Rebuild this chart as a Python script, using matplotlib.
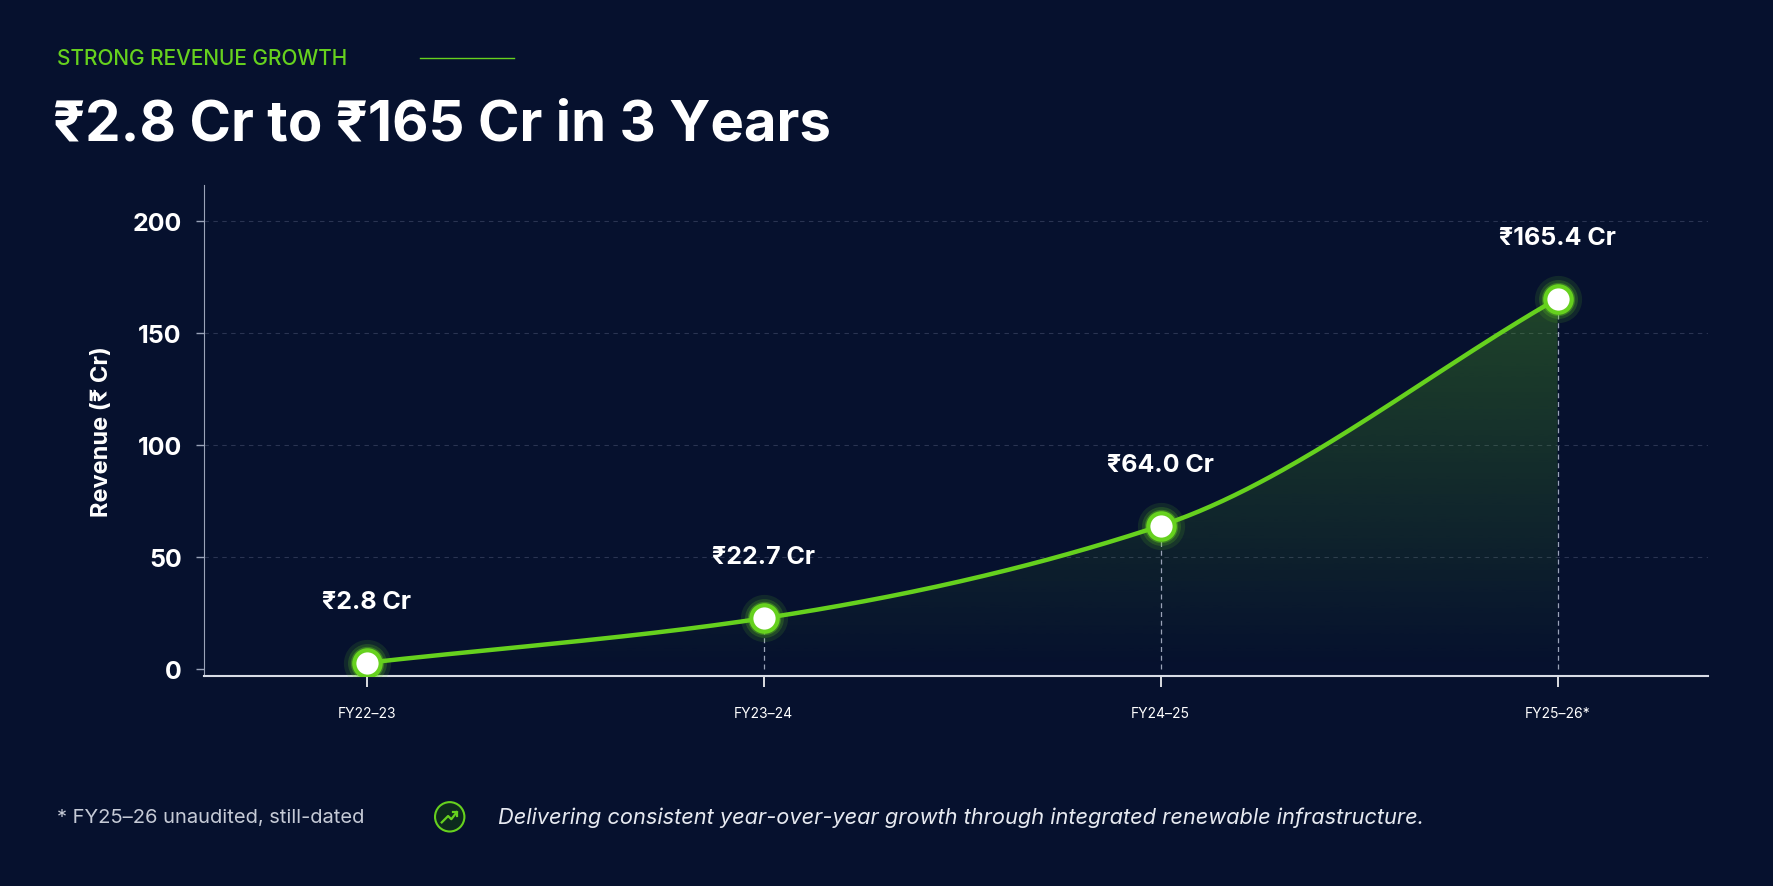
import numpy as np
import matplotlib.pyplot as plt
from matplotlib.patches import Circle

years = ["FY22–23", "FY23–24", "FY24–25", "FY25–26*"]
revenue = [2.8, 22.7, 64.0, 165.4]
labels = ["₹2.8 Cr", "₹22.7 Cr", "₹64.0 Cr", "₹165.4 Cr"]
yticks = [0, 50, 100, 150, 200]

BG = "#06112e"
GREEN = "#66d11e"
FONT = ["Inter", "DejaVu Sans"]
plt.rcParams["font.family"] = FONT


def pchip(x, y, xs):
    x = np.asarray(x, float); y = np.asarray(y, float)
    h = np.diff(x); d = np.diff(y) / h
    m = np.zeros_like(y)
    for k in range(1, len(x) - 1):
        if d[k - 1] * d[k] > 0:
            w1 = 2 * h[k] + h[k - 1]; w2 = h[k] + 2 * h[k - 1]
            m[k] = (w1 + w2) / (w1 / d[k - 1] + w2 / d[k])
    m[0] = d[0]; m[-1] = d[-1]
    out = np.empty_like(xs)
    for i, v in enumerate(xs):
        k = min(np.searchsorted(x, v, side="right") - 1, len(x) - 2)
        t = (v - x[k]) / h[k]
        out[i] = ((2*t**3 - 3*t**2 + 1) * y[k] + (t**3 - 2*t**2 + t) * h[k] * m[k]
                  + (-2*t**3 + 3*t**2) * y[k+1] + (t**3 - t**2) * h[k] * m[k+1])
    return out


fig = plt.figure(figsize=(17.74, 8.87), dpi=100, facecolor=BG)
ax = fig.add_axes([0.115, 0.237, 0.848, 0.553])
ax.set_facecolor(BG)
xi = np.arange(len(years))
ax.set_xlim(-0.41, 3.38)
ax.set_ylim(-3, 216)

xs = np.linspace(0, 3, 300)
ys = pchip(xi, revenue, xs)

grad = np.linspace(0.35, 0.0, 256).reshape(-1, 1)
cmap = plt.matplotlib.colors.LinearSegmentedColormap.from_list(
    "g", [(0.4, 0.82, 0.12, 0.0), (0.4, 0.82, 0.12, 1.0)])
im = ax.imshow(grad[::-1], extent=[0, 3, 0, 216], origin="lower", aspect="auto",
               cmap=cmap, vmin=0, vmax=1, zorder=1)
poly = ax.fill_between(xs, 0, ys, color="none")
im.set_clip_path(poly.get_paths()[0], transform=ax.transData)

for y in yticks[1:]:
    ax.axhline(y, color="#2a3452", lw=0.8, ls=(0, (4, 4)), zorder=0)
for x, v in zip(xi, revenue):
    ax.plot([x, x], [0, v], color="#9aa3b8", lw=0.9, ls=(0, (4, 3)), zorder=2)

ax.plot(xs, ys, color=GREEN, lw=3.2, zorder=3, solid_capstyle="round")
for s, a in [(34, 0.12), (28, 0.2), (24, 0.35)]:
    ax.plot(xi, revenue, "o", ms=s, color=GREEN, alpha=a, mec="none", zorder=4)
ax.plot(xi, revenue, "o", ms=19, mfc="white", mec=GREEN, mew=3, zorder=5)

for x, v, t in zip(xi, revenue, labels):
    ax.annotate(t, (x, v), xytext=(0, 36), textcoords="offset points", ha="center",
                va="bottom", color="white", fontsize=18, fontweight="bold")

ax.set_xticks(xi, years, fontweight="bold", fontsize=18, color="white")
ax.set_yticks(yticks, [str(v) for v in yticks], fontweight="bold", fontsize=18,
              color="white")
ax.tick_params(axis="x", colors="white", length=8, width=1.2, pad=14)
ax.tick_params(axis="y", length=6, width=1, pad=10, color="#9aa3b8")
for sp in ["top", "right"]:
    ax.spines[sp].set_visible(False)
ax.spines["left"].set_color("#9aa3b8")
ax.spines["bottom"].set_color("#d8dce6")
ax.spines["bottom"].set_linewidth(1.5)
ax.spines["bottom"].set_position(("data", -3))
ax.set_ylabel("Revenue (₹ Cr)", color="white", fontsize=17, fontweight="bold", labelpad=14)

fig.text(0.032, 0.933, "STRONG REVENUE GROWTH", color=GREEN, fontsize=15,
         fontweight="medium", va="center")
fig.add_artist(plt.Line2D([0.237, 0.29], [0.933, 0.933], color=GREEN, lw=1))
fig.text(0.030, 0.858, "₹2.8 Cr to ₹165 Cr in 3 Years", color="white", fontsize=40.5,
         fontweight="bold", va="center")

fig.text(0.032, 0.078, "* FY25–26 unaudited, still-dated", color="#c5cad6",
         fontsize=14.5, va="center")
ax2 = fig.add_axes([0.2445, 0.060, 0.018, 0.036])
ax2.set_xlim(-1, 1); ax2.set_ylim(-1, 1); ax2.set_aspect("equal"); ax2.axis("off")
ax2.add_patch(Circle((0, 0), 0.92, fc="#0d2a1e", ec=GREEN, lw=1.5))
ax2.plot([-0.5, -0.1, 0.1, 0.45], [-0.35, 0.05, -0.15, 0.3], color=GREEN, lw=1.6)
ax2.plot([0.2, 0.45, 0.45], [0.3, 0.3, 0.05], color=GREEN, lw=1.6)
fig.text(0.281, 0.078,
         "Delivering consistent year-over-year growth through integrated renewable infrastructure.",
         color="#e6e9f0", fontsize=15.7, style="italic", va="center")

fig.savefig("out.png", dpi=100, facecolor=BG)
